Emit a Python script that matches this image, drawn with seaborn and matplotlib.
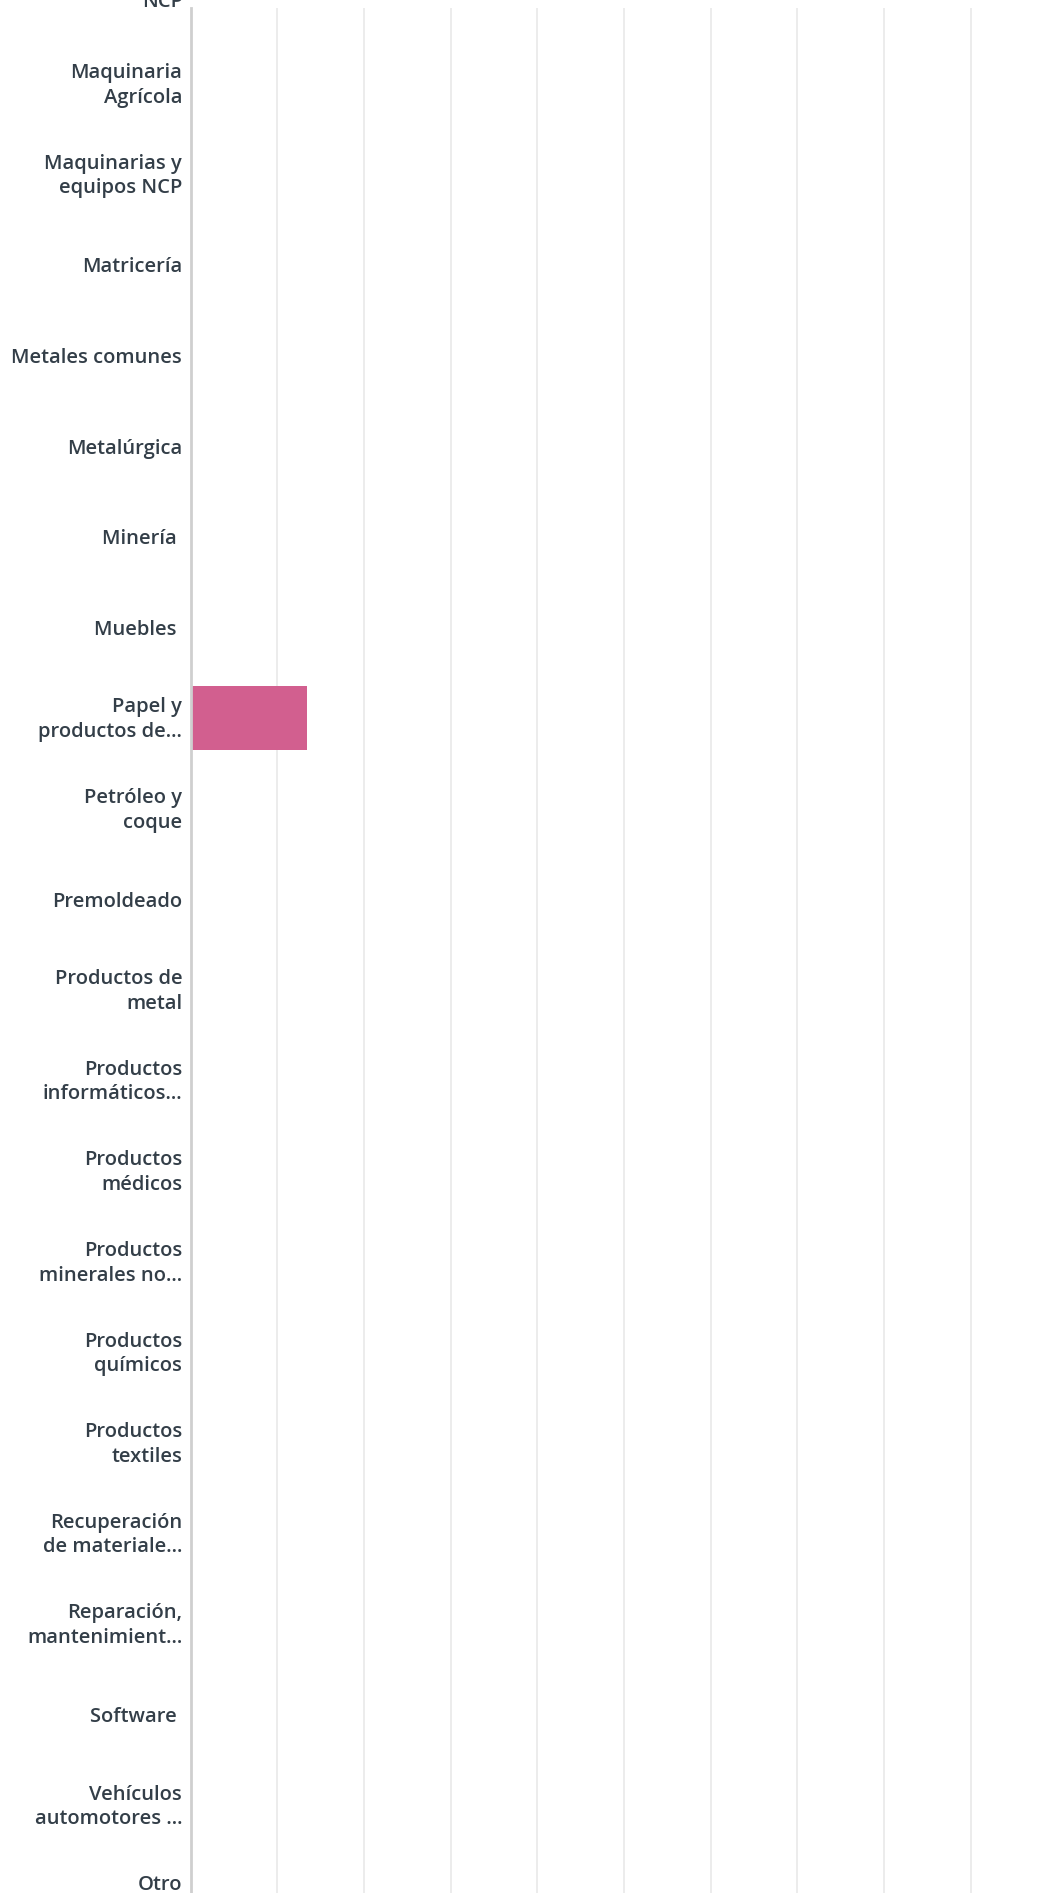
import matplotlib
matplotlib.use("Agg")
import matplotlib.pyplot as plt
import matplotlib.transforms as mtransforms
import seaborn as sns
import pandas as pd
import numpy as np

categories = [
    "Maquinaria eléctrica\nNCP",
    "Maquinaria\nAgrícola",
    "Maquinarias y\nequipos NCP",
    "Matricería",
    "Metales comunes",
    "Metalúrgica",
    "Minería ",
    "Muebles ",
    "Papel y\nproductos de...",
    "Petróleo y\ncoque",
    "Premoldeado",
    "Productos de\nmetal",
    "Productos\ninformáticos...",
    "Productos\nmédicos",
    "Productos\nminerales no...",
    "Productos\nquímicos",
    "Productos\ntextiles",
    "Recuperación\nde materiale...",
    "Reparación,\nmantenimient...",
    "Software ",
    "Vehículos\nautomotores ...",
    "Otro\n(especifique)",
]
values = [0, 0, 0, 0, 0, 0, 0, 0, 13.4, 0, 0, 0, 0, 0, 0, 0, 0, 0, 0, 0, 0, 0]
grid_ticks = [0, 10, 20, 30, 40, 50, 60, 70, 80, 90]

df = pd.DataFrame({"cat": categories, "val": values})

sns.set_style("white")
plt.rcParams["font.family"] = ["Open Sans", "DejaVu Sans"]

W, H = 1053, 1893
fig = plt.figure(figsize=(W / 100, H / 100), dpi=100)
left_px = 190.5
top_px = 8
bottom_px = H + 60  # axes continue below the visible picture
ax = fig.add_axes([left_px / W, 1 - bottom_px / H,
                   1 - left_px / W, (bottom_px - top_px) / H])

sns.barplot(data=df, y="cat", x="val", orient="h", color="#D25F8F",
            saturation=1, width=0.71, ax=ax, linewidth=0)

spacing = 90.6
first_center = -6.8
y_top = (top_px - first_center) / spacing
y_bot = (bottom_px - first_center) / spacing
ax.set_ylim(y_bot, y_top)
xmax = (W - left_px) / 86.7 * 10
ax.set_xlim(0, xmax)

ax.set_xticks(grid_ticks)
ax.set_xticklabels([])
ax.tick_params(axis="x", length=0)
ax.tick_params(axis="y", length=0, pad=6)
ax.grid(axis="x", color="#ebebeb", linewidth=1.3)
ax.set_axisbelow(True)
for s in ["top", "right", "bottom"]:
    ax.spines[s].set_visible(False)
ax.spines["left"].set_color("#cfcfcf")
ax.spines["left"].set_linewidth(2)
ax.set_xlabel("")
ax.set_ylabel("")

up = mtransforms.ScaledTranslation(0, 3 / 100, fig.dpi_scale_trans)
for lbl in ax.get_yticklabels():
    lbl.set_fontsize(14.5)
    lbl.set_fontweight("semibold")
    lbl.set_color("#333e48")
    lbl.set_multialignment("right")
    lbl.set_linespacing(1.3)
    if "\n" in lbl.get_text():
        lbl.set_transform(lbl.get_transform() + up)

# first category label lies above the visible plot area
ax.text(-0.9, 0, categories[0], ha="right", va="center", fontsize=14.5,
        fontweight="semibold", color="#333e48", linespacing=1.3,
        multialignment="right", clip_on=False,
        transform=ax.transData + up)

fig.savefig("out.png", dpi=100, facecolor="white")
